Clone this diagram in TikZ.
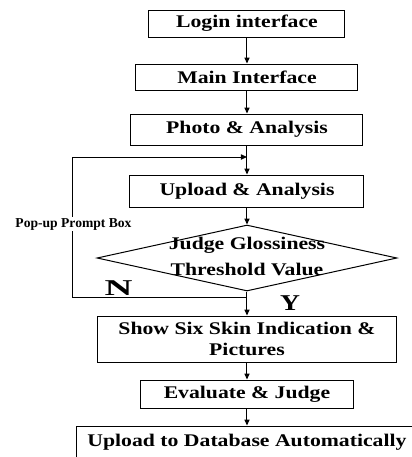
\documentclass[tikz,border=0pt]{standalone}
\usepackage{fontspec}
\setmainfont[FakeStretch=1.22]{Liberation Serif}
\newfontfamily\plainserif{Liberation Serif}
\usetikzlibrary{positioning, arrows.meta, shapes.geometric}

\begin{document}
\begin{tikzpicture}[
    x=0.5pt, y=-0.5pt,
    >={Triangle[length=3pt, width=2.6pt]},
    box/.style={rectangle, draw=black, line width=0.5pt, inner sep=0pt, align=center, font=\fontsize{8.9}{10.5}\selectfont\bfseries},
    arr/.style={->, line width=0.5pt},
    lbl/.style={font=\fontsize{11.3}{12}\selectfont\bfseries}
]
\useasboundingbox (0,0) rectangle (412,457);

\node[box, minimum width=98pt, minimum height=13.5pt] (login) at (247,23.5) {Login interface};
\node[box, minimum width=111pt, minimum height=13pt] (main) at (247,77) {Main Interface};
\node[box, minimum width=116pt, minimum height=15.5pt] (photo) at (247,129.5) {Photo \& Analysis};
\node[box, minimum width=117pt, minimum height=16pt] (upl) at (247,191) {Upload \& Analysis};
\node[diamond, draw=black, line width=0.5pt, minimum width=150pt, minimum height=33pt, inner sep=0pt] (judge) at (247,258) {};
\node[box, draw=none, font=\fontsize{8.9}{13}\selectfont\bfseries] (judgetxt) at (247,256) {Judge Glossiness\\Threshold Value};
\node[box, minimum width=149.5pt, minimum height=23pt] (show) at (247,339) {Show Six Skin Indication \&\\Pictures};
\node[box, minimum width=106.5pt, minimum height=14pt] (eval) at (247,394) {Evaluate \& Judge};
\node[box, minimum width=170.5pt, minimum height=16pt] (db) at (247,442) {Upload to Database Automatically};

\coordinate (jn) at (247,157);
\coordinate (ny) at (247,297);
\coordinate (lb) at (73,297);
\coordinate (lt) at (73,157);

\draw[arr] (login) -- (main);
\draw[arr] (main) -- (photo);
\draw[arr] (photo) -- (upl);
\draw[arr] (upl) -- (judge.north);
\draw[arr] (judge.south) -- (show);
\draw[arr] (show) -- (eval);
\draw[arr] (eval) -- (db);
\draw[arr] (ny) -- (lb) -- (lt) -- (jn);

\node[fill=white, inner sep=0.6pt, font=\fontsize{6.8}{7}\selectfont\plainserif\bfseries] (popup) at (73.5,224) {Pop-up Prompt Box};
\node[lbl] (no) at (118.5,288) {\scalebox{1.4}[1]{N}};
\node[lbl] (yes) at (290,303) {Y};

\end{tikzpicture}
\end{document}
